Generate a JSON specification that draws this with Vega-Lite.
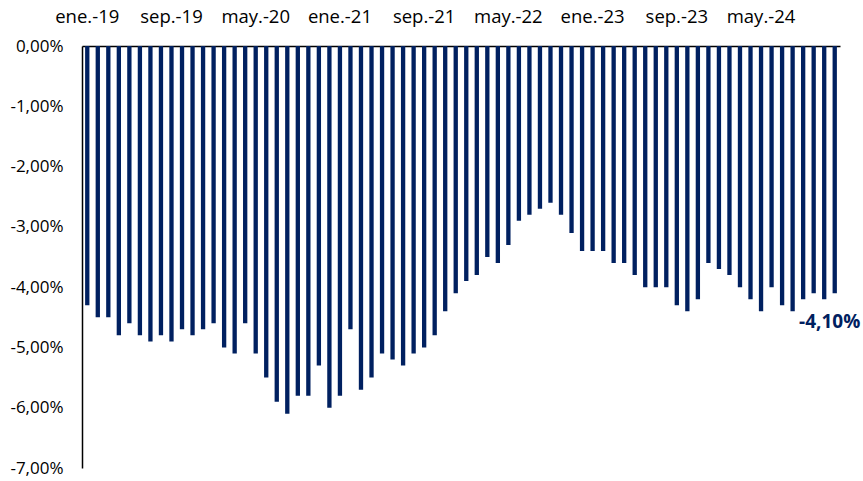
{
  "$schema": "https://vega.github.io/schema/vega-lite/v6.json",
  "width": 758,
  "height": 422,
  "autosize": {"type": "none"},
  "padding": {"left": 82, "top": 46, "right": 23, "bottom": 13},
  "background": "white",
  "config": {"view": {"stroke": null}, "font": "Open Sans"},
  "data": {"values": [
    {"mes": "ene.-19", "valor": -4.3}, {"mes": "feb.-19", "valor": -4.5}, {"mes": "mar.-19", "valor": -4.5}, {"mes": "abr.-19", "valor": -4.8},
    {"mes": "may.-19", "valor": -4.6}, {"mes": "jun.-19", "valor": -4.8}, {"mes": "jul.-19", "valor": -4.9}, {"mes": "ago.-19", "valor": -4.8},
    {"mes": "sep.-19", "valor": -4.9}, {"mes": "oct.-19", "valor": -4.7}, {"mes": "nov.-19", "valor": -4.8}, {"mes": "dic.-19", "valor": -4.7},
    {"mes": "ene.-20", "valor": -4.6}, {"mes": "feb.-20", "valor": -5.0}, {"mes": "mar.-20", "valor": -5.1}, {"mes": "abr.-20", "valor": -4.6},
    {"mes": "may.-20", "valor": -5.1}, {"mes": "jun.-20", "valor": -5.5}, {"mes": "jul.-20", "valor": -5.9}, {"mes": "ago.-20", "valor": -6.1},
    {"mes": "sep.-20", "valor": -5.8}, {"mes": "oct.-20", "valor": -5.8}, {"mes": "nov.-20", "valor": -5.3}, {"mes": "dic.-20", "valor": -6.0},
    {"mes": "ene.-21", "valor": -5.8}, {"mes": "feb.-21", "valor": -4.7}, {"mes": "mar.-21", "valor": -5.7}, {"mes": "abr.-21", "valor": -5.5},
    {"mes": "may.-21", "valor": -5.1}, {"mes": "jun.-21", "valor": -5.2}, {"mes": "jul.-21", "valor": -5.3}, {"mes": "ago.-21", "valor": -5.1},
    {"mes": "sep.-21", "valor": -5.0}, {"mes": "oct.-21", "valor": -4.8}, {"mes": "nov.-21", "valor": -4.4}, {"mes": "dic.-21", "valor": -4.1},
    {"mes": "ene.-22", "valor": -3.9}, {"mes": "feb.-22", "valor": -3.8}, {"mes": "mar.-22", "valor": -3.5}, {"mes": "abr.-22", "valor": -3.6},
    {"mes": "may.-22", "valor": -3.3}, {"mes": "jun.-22", "valor": -2.9}, {"mes": "jul.-22", "valor": -2.8}, {"mes": "ago.-22", "valor": -2.7},
    {"mes": "sep.-22", "valor": -2.6}, {"mes": "oct.-22", "valor": -2.8}, {"mes": "nov.-22", "valor": -3.1}, {"mes": "dic.-22", "valor": -3.4},
    {"mes": "ene.-23", "valor": -3.4}, {"mes": "feb.-23", "valor": -3.4}, {"mes": "mar.-23", "valor": -3.6}, {"mes": "abr.-23", "valor": -3.6},
    {"mes": "may.-23", "valor": -3.8}, {"mes": "jun.-23", "valor": -4.0}, {"mes": "jul.-23", "valor": -4.0}, {"mes": "ago.-23", "valor": -4.0},
    {"mes": "sep.-23", "valor": -4.3}, {"mes": "oct.-23", "valor": -4.4}, {"mes": "nov.-23", "valor": -4.2}, {"mes": "dic.-23", "valor": -3.6},
    {"mes": "ene.-24", "valor": -3.7}, {"mes": "feb.-24", "valor": -3.8}, {"mes": "mar.-24", "valor": -4.0}, {"mes": "abr.-24", "valor": -4.2},
    {"mes": "may.-24", "valor": -4.4}, {"mes": "jun.-24", "valor": -4.0}, {"mes": "jul.-24", "valor": -4.3}, {"mes": "ago.-24", "valor": -4.4},
    {"mes": "sep.-24", "valor": -4.2}, {"mes": "oct.-24", "valor": -4.1}, {"mes": "nov.-24", "valor": -4.2}, {"mes": "dic.-24", "valor": -4.1}
  ]},
  "encoding": {
    "x": {
      "field": "mes", "type": "ordinal", "sort": null,
      "scale": {"paddingInner": 0.59, "paddingOuter": 0.295},
      "axis": {
        "orient": "top", "title": null, "labelAngle": 0,
        "values": ["ene.-19", "sep.-19", "may.-20", "ene.-21", "sep.-21", "may.-22", "ene.-23", "sep.-23", "may.-24"],
        "ticks": false, "labelPadding": 20, "labelFontSize": 18.5, "labelColor": "#000000",
        "domainColor": "#000000", "domainWidth": 1.5
      }
    },
    "y": {
      "field": "valor", "type": "quantitative",
      "scale": {"domain": [-7, 0], "nice": false, "zero": false},
      "axis": {
        "title": null, "grid": false, "ticks": false,
        "values": [0, -1, -2, -3, -4, -5, -6, -7],
        "labelExpr": "(datum.value < 0 ? '-' : '') + replace(format(abs(datum.value), '.2f'), '.', ',') + '%'",
        "labelPadding": 19, "labelFontSize": 17, "labelColor": "#000000",
        "domainColor": "#000000", "domainWidth": 1.5
      }
    }
  },
  "layer": [
    {"mark": {"type": "bar", "color": "#002060"}},
    {
      "transform": [
        {"filter": "datum.mes === 'dic.-24'"},
        {"calculate": "'-' + replace(format(abs(datum.valor), '.2f'), '.', ',') + '%'", "as": "etiqueta"}
      ],
      "mark": {"type": "text", "fontWeight": "bold", "fontSize": 19, "color": "#002060", "align": "center", "baseline": "top", "dx": -5, "dy": 20},
      "encoding": {"text": {"field": "etiqueta"}}
    }
  ]
}
